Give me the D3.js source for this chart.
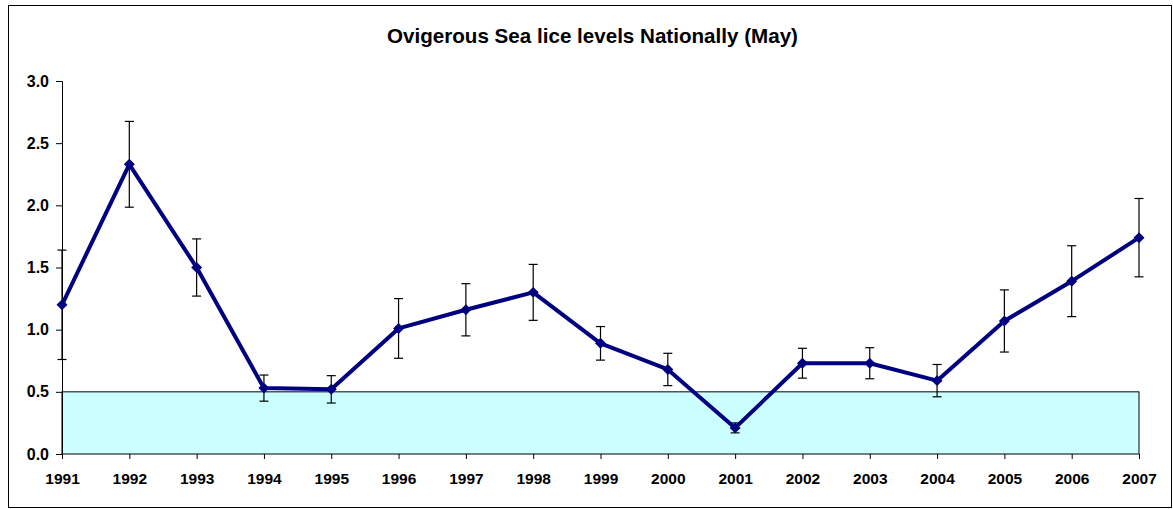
<!DOCTYPE html>
<html>
<head>
<meta charset="utf-8">
<script src="https://cdn.jsdelivr.net/npm/d3@7"></script>
<style>
  html, body { margin: 0; padding: 0; background: #fff; }
  svg { display: block; }
  text { font-family: Arial, "Liberation Sans", sans-serif; font-weight: bold; fill: #000; }
</style>
</head>
<body>
<script>
const years = ["1991","1992","1993","1994","1995","1996","1997","1998","1999","2000","2001","2002","2003","2004","2005","2006","2007"];
const values = [1.20, 2.33, 1.50, 0.53, 0.52, 1.01, 1.16, 1.30, 0.89, 0.68, 0.21, 0.73, 0.73, 0.59, 1.07, 1.39, 1.74];
const errors = [0.44, 0.345, 0.23, 0.105, 0.11, 0.24, 0.21, 0.225, 0.135, 0.13, 0.04, 0.12, 0.125, 0.13, 0.25, 0.285, 0.315];
const yTicks = [0, 0.5, 1.0, 1.5, 2.0, 2.5, 3.0];
const threshold = 0.5;
const title = "Ovigerous Sea lice levels Nationally (May)";

const W = 1173, H = 509;
const m = { left: 62, right: 1139, top: 81, bottom: 454 };

const svg = d3.select("body").append("svg").attr("width", W).attr("height", H);

// outer border
svg.append("rect").attr("x", 8.5).attr("y", 5.5).attr("width", 1163).attr("height", 502)
  .attr("fill", "#fff").attr("stroke", "#000").attr("stroke-width", 1);

const x = d3.scalePoint().domain(years).range([m.left, m.right]);
const y = d3.scaleLinear().domain([0, 3]).range([m.bottom, m.top]);

// shaded threshold band
svg.append("rect")
  .attr("x", x(years[0])).attr("y", y(threshold))
  .attr("width", x(years[years.length - 1]) - x(years[0]))
  .attr("height", y(0) - y(threshold))
  .attr("fill", "#CCFFFF").attr("stroke", "#000").attr("stroke-width", 1);

// title
svg.append("text").attr("x", 592.5).attr("y", 43).attr("text-anchor", "middle")
  .style("font-size", "20.6px").text(title);

// y axis
const yAxis = d3.axisLeft(y).tickValues(yTicks).tickFormat(d3.format(".1f")).tickSize(6).tickPadding(7);
const gy = svg.append("g").attr("transform", `translate(${m.left},0)`).call(yAxis);
gy.selectAll("text").style("font-size", "16px");
gy.select(".domain").attr("stroke", "#000");

// x axis
const xAxis = d3.axisBottom(x).tickSize(5).tickPadding(14);
const gx = svg.append("g").attr("transform", `translate(0,${m.bottom})`).call(xAxis);
gx.select(".domain").remove();
gx.selectAll("text").style("font-size", "15.5px");

// error bars
const eb = svg.append("g");
years.forEach((yr, i) => {
  const cx = x(yr), lo = y(values[i] - errors[i]), hi = y(values[i] + errors[i]);
  eb.append("line").attr("x1", cx).attr("x2", cx).attr("y1", lo).attr("y2", hi)
    .attr("stroke", "#000").attr("stroke-width", 1.2);
  [lo, hi].forEach(v => eb.append("line").attr("x1", cx - 4.5).attr("x2", cx + 4.5)
    .attr("y1", v).attr("y2", v).attr("stroke", "#000").attr("stroke-width", 1.2));
});

// line
const line = d3.line().x((d, i) => x(years[i])).y(d => y(d));
svg.append("path").datum(values).attr("d", line)
  .attr("fill", "none").attr("stroke", "#000080").attr("stroke-width", 4)
  .attr("stroke-linejoin", "round");

// markers
svg.append("g").selectAll("path").data(values).join("path")
  .attr("transform", (d, i) => `translate(${x(years[i])},${y(d)}) rotate(45)`)
  .attr("d", d3.symbol(d3.symbolSquare, 60)())
  .attr("fill", "#000080");
</script>
</body>
</html>
